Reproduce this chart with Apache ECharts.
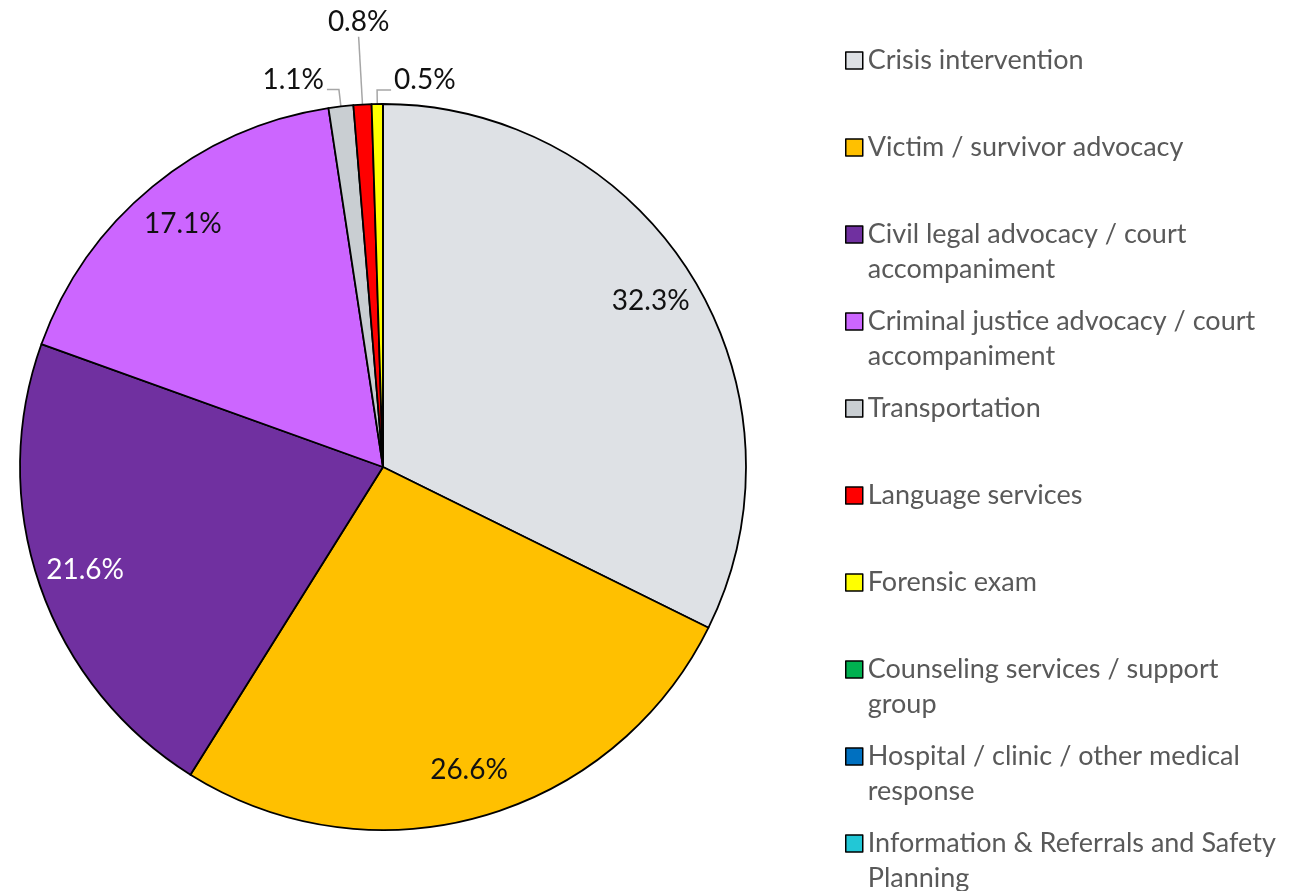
<!DOCTYPE html>
<html>
<head>
<meta charset="utf-8">
<script src="https://cdn.jsdelivr.net/npm/echarts@6/dist/echarts.min.js"></script>
<style>
  html, body { margin: 0; padding: 0; background: #fff; }
  #chart { width: 1307px; height: 891px; }
</style>
</head>
<body>
<div id="chart"></div>
<script>
const categories = [
  'Crisis intervention',
  'Victim / survivor advocacy',
  'Civil legal advocacy / court accompaniment',
  'Criminal justice advocacy / court accompaniment',
  'Transportation',
  'Language services',
  'Forensic exam',
  'Counseling services / support group',
  'Hospital / clinic / other medical response',
  'Information & Referrals and Safety Planning'
];
// legend text as wrapped in the original
const legendLabels = [
  'Crisis intervention',
  'Victim / survivor advocacy',
  'Civil legal advocacy / court\naccompaniment',
  'Criminal justice advocacy / court\naccompaniment',
  'Transportation',
  'Language services',
  'Forensic exam',
  'Counseling services / support\ngroup',
  'Hospital / clinic / other medical\nresponse',
  'Information & Referrals and Safety\nPlanning'
];
const percents = [32.3, 26.6, 21.6, 17.1, 1.1, 0.8, 0.5, 0, 0, 0];
const colors = ['#DEE1E5', '#FFC000', '#7030A0', '#CC66FF', '#C9CED2', '#FF0000', '#FFFF00', '#00B050', '#0070C0', '#22C7D6'];

const chart = echarts.init(document.getElementById('chart'), null, { renderer: 'canvas' });

const cx = 383, cy = 467, R = 363;
const FONT = 'Lato';

// small slices get outside labels with leader lines
const smallLines = {
  4: { length: 17, length2: 12 },
  5: { length: 68, length2: 0 },
  6: { length: 14, length2: 14 }
};

const mainData = percents.map(function (v, i) {
  const d = { name: categories[i], value: v, itemStyle: { color: colors[i] } };
  if (smallLines[i]) {
    d.label = { show: true };
    d.labelLine = { show: true, length: smallLines[i].length, length2: smallLines[i].length2 };
  }
  return d;
});

const bigData = percents.map(function (v, i) {
  return {
    name: categories[i],
    value: v,
    label: { show: v > 5, color: i === 2 ? '#ffffff' : '#111111' }
  };
});

const option = {
  backgroundColor: '#ffffff',
  animation: false,
  legend: {
    orient: 'vertical',
    left: 845,
    top: 8,
    height: 1200,
    padding: 0,
    selectedMode: false,
    icon: 'rect',
    itemWidth: 17,
    itemHeight: 17,
    itemGap: -18,
    data: categories,
    itemStyle: { borderColor: '#000', borderWidth: 1.5 },
    formatter: function (name) {
      const t = legendLabels[categories.indexOf(name)];
      return t.indexOf('\n') >= 0 ? ' \n' + t : ' \n' + t + '\n ';
    },
    textStyle: {
      color: '#595959',
      fontFamily: FONT,
      fontSize: 27,
      lineHeight: 35,
      padding: [0, 0, 0, 0]
    }
  },
  series: [{
    type: 'pie',
    center: [cx, cy],
    radius: [0, R],
    startAngle: 90,
    clockwise: true,
    avoidLabelOverlap: false,
    silent: true,
    itemStyle: { borderColor: '#000', borderWidth: 1.8 },
    label: {
      show: false,
      position: 'outside',
      formatter: function (p) { return p.value.toFixed(1) + '%'; },
      color: '#111111',
      fontFamily: FONT,
      fontSize: 28
    },
    labelLine: { lineStyle: { color: '#A6A6A6', width: 1.5 }, smooth: false },
    labelLayout: function (params) {
      const pts = params.labelLinePoints;
      if (!pts) return {};
      const i = params.dataIndex;
      if (i === 4) {
        return { x: pts[2][0] - 3, y: pts[2][1] - 10, align: 'right', verticalAlign: 'middle', labelLinePoints: pts };
      }
      if (i === 5) {
        return { x: pts[1][0], y: pts[1][1] - 1, align: 'center', verticalAlign: 'bottom', labelLinePoints: pts };
      }
      if (i === 6) {
        const p2 = [pts[1][0] + smallLines[6].length2, pts[1][1]];
        return { x: p2[0] + 3, y: p2[1] - 10, align: 'left', verticalAlign: 'middle', labelLinePoints: [pts[0], pts[1], p2] };
      }
      return {};
    },
    data: mainData
  }, {
    // transparent ring only used to place the large-slice labels near the rim
    type: 'pie',
    center: [cx, cy],
    radius: [0, 2 * 0.86 * R],
    startAngle: 90,
    clockwise: true,
    silent: true,
    avoidLabelOverlap: false,
    itemStyle: { color: 'rgba(0,0,0,0)', borderWidth: 0 },
    label: {
      position: 'inside',
      formatter: function (p) { return p.value.toFixed(1) + '%'; },
      fontFamily: FONT,
      fontSize: 28
    },
    labelLine: { show: false },
    data: bigData
  }]
};

chart.setOption(option);
</script>
</body>
</html>
